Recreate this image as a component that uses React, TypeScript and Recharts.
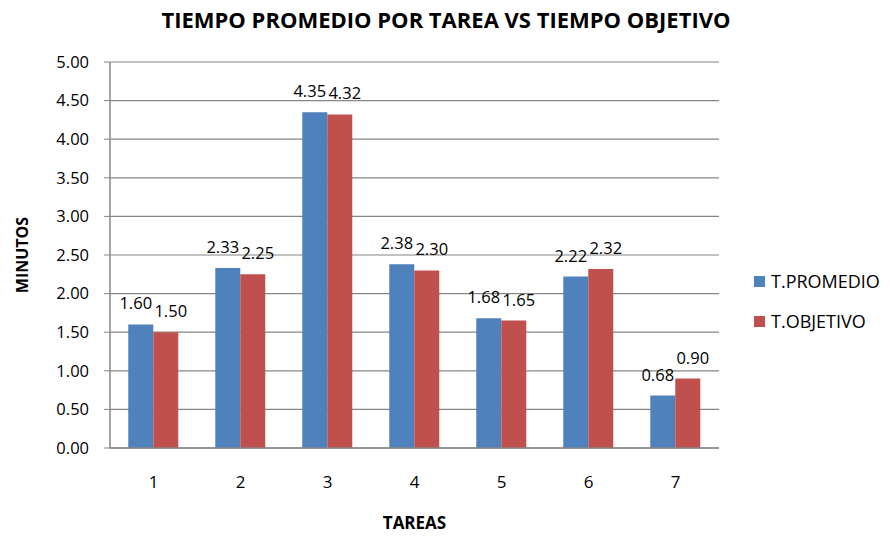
import React from "react";
import {
  BarChart,
  Bar,
  XAxis,
  YAxis,
  CartesianGrid,
  LabelList,
} from "recharts";

const tareas = ["1", "2", "3", "4", "5", "6", "7"];
const tPromedio = [1.6, 2.33, 4.35, 2.38, 1.68, 2.22, 0.68];
const tObjetivo = [1.5, 2.25, 4.32, 2.3, 1.65, 2.32, 0.9];
const yTicks = [0, 0.5, 1, 1.5, 2, 2.5, 3, 3.5, 4, 4.5, 5];

const data = tareas.map((t, i) => ({
  tarea: t,
  promedio: tPromedio[i],
  objetivo: tObjetivo[i],
}));

const FONT = "'Open Sans', 'Liberation Sans', sans-serif";
const BLUE = "#4F81BD";
const RED = "#C0504D";
const AXIS = "#868686";

const series = [
  { key: "promedio", name: "T.PROMEDIO", color: BLUE, dx: -5 },
  { key: "objetivo", name: "T.OBJETIVO", color: RED, dx: 5 },
];

// legend drawn beside the plot, like the Excel original
const LegendBox = () => (
  <div
    style={{
      position: "absolute",
      left: 754,
      top: 261,
      fontFamily: FONT,
      fontSize: 18,
      color: "#000",
    }}
  >
    {series.map((s) => (
      <div
        key={s.key}
        style={{ display: "flex", alignItems: "center", height: 40 }}
      >
        <span
          style={{
            width: 11,
            height: 11,
            background: s.color,
            display: "inline-block",
            marginRight: 6,
          }}
        />
        <span>{s.name}</span>
      </div>
    ))}
  </div>
);

export default function App() {
  return (
    <div
      style={{
        position: "absolute",
        left: 0,
        top: 0,
        width: 890,
        height: 537,
        background: "#fff",
        overflow: "hidden",
      }}
    >
      <div
        style={{
          position: "absolute",
          top: 4,
          left: 0,
          width: 892,
          textAlign: "center",
          fontFamily: FONT,
          fontWeight: 700,
          fontSize: 22,
          color: "#000",
        }}
      >
        TIEMPO PROMEDIO POR TAREA VS TIEMPO OBJETIVO
      </div>
      <BarChart
        width={890}
        height={537}
        data={data}
        margin={{ top: 62, right: 171, bottom: 0, left: 10 }}
        barCategoryGap="21%"
        barGap={0}
      >
        <CartesianGrid vertical={false} stroke={AXIS} strokeWidth={1.2} />
        <XAxis
          dataKey="tarea"
          height={89}
          axisLine={{ stroke: AXIS, strokeWidth: 1.5 }}
          tickLine={false}
          tickMargin={22}
          tick={{ fill: "#000", fontSize: 17, fontFamily: FONT }}
          label={{
            value: "TAREAS",
            position: "insideBottom",
            offset: 8,
            fill: "#000",
            fontSize: 17,
            fontWeight: 700,
            fontFamily: FONT,
          }}
        />
        <YAxis
          width={100}
          domain={[0, 5]}
          ticks={yTicks}
          interval={0}
          tickFormatter={(v: number) => v.toFixed(2)}
          axisLine={{ stroke: AXIS, strokeWidth: 1.5 }}
          tickLine={{ stroke: AXIS }}
          tickSize={6}
          tickMargin={15}
          tick={{ fill: "#000", fontSize: 16.5, fontFamily: FONT }}
          label={{
            value: "MINUTOS",
            angle: -90,
            position: "insideLeft",
            offset: 12,
            style: { textAnchor: "middle" },
            fill: "#000",
            fontSize: 16,
            fontWeight: 700,
            fontFamily: FONT,
          }}
        />
        {series.map((s) => (
          <Bar
            key={s.key}
            dataKey={s.key}
            name={s.name}
            fill={s.color}
            isAnimationActive={false}
          >
            <LabelList
              dataKey={s.key}
              position="top"
              offset={15}
              dx={s.dx}
              formatter={(v: any) => Number(v).toFixed(2)}
              style={{ fill: "#000", fontSize: 16.5, fontFamily: FONT }}
            />
          </Bar>
        ))}
      </BarChart>
      <LegendBox />
    </div>
  );
}
